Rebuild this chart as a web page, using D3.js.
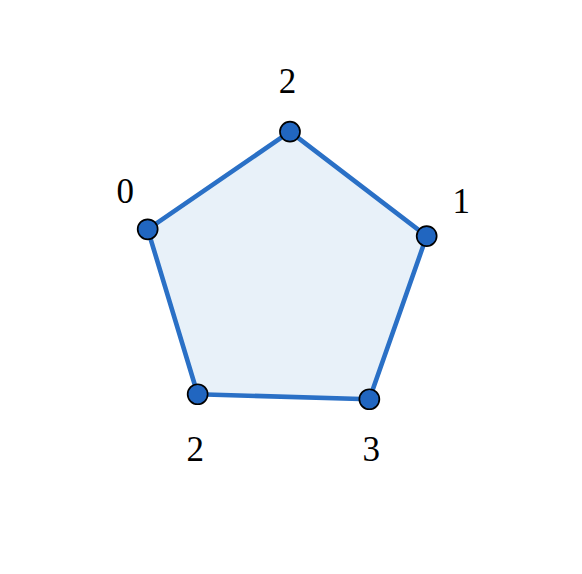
<!DOCTYPE html>
<html>
<head>
<meta charset="utf-8">
<script src="https://cdn.jsdelivr.net/npm/d3@7"></script>
<style>
  html, body { margin: 0; padding: 0; background: #ffffff; }
  svg { display: block; }
</style>
</head>
<body>
<div id="chart"></div>
<script>
// Node order around the cycle
const nodeIds   = ["a", "b", "c", "d", "e"];
// Node positions in data coordinates (unit circle layout)
const nodeX     = [0.025, 0.955, 0.565, -0.603, -0.943];
const nodeY     = [0.996, 0.286, -0.824, -0.790, 0.332];
// Node label values
const nodeLabels = ["2", "1", "3", "2", "0"];
// Label anchor positions in data coordinates
const labelX    = [0.008, 1.190, 0.578, -0.619, -1.095];
const labelY    = [1.336, 0.518, -1.163, -1.165, 0.586];

const W = 582, H = 574;
const x = d3.scaleLinear().domain([-1, 1]).range([139.3, 433.3]);
const y = d3.scaleLinear().domain([-1, 1]).range([425.1, 131.1]);

const nodes = nodeIds.map((id, i) => ({
  id, x: nodeX[i], y: nodeY[i], label: nodeLabels[i], lx: labelX[i], ly: labelY[i]
}));

const svg = d3.select("#chart").append("svg")
  .attr("width", W).attr("height", H);

const line = d3.line().x(d => x(d.x)).y(d => y(d.y)).curve(d3.curveLinearClosed);

svg.append("path")
  .datum(nodes)
  .attr("d", line)
  .attr("fill", "#e8f1f9")
  .attr("stroke", "#2a70c6")
  .attr("stroke-width", 4.6)
  .attr("stroke-linejoin", "round");

svg.selectAll("circle.node")
  .data(nodes)
  .join("circle")
  .attr("class", "node")
  .attr("cx", d => x(d.x))
  .attr("cy", d => y(d.y))
  .attr("r", 10)
  .attr("fill", "#2166c0")
  .attr("stroke", "#000000")
  .attr("stroke-width", 1.7);

svg.selectAll("text.lbl")
  .data(nodes)
  .join("text")
  .attr("class", "lbl")
  .attr("x", d => x(d.lx))
  .attr("y", d => y(d.ly))
  .attr("text-anchor", "middle")
  .attr("dominant-baseline", "central")
  .attr("font-family", "'Liberation Serif', 'DejaVu Serif', serif")
  .attr("font-size", 35)
  .attr("fill", "#000000")
  .text(d => d.label);
</script>
</body>
</html>
